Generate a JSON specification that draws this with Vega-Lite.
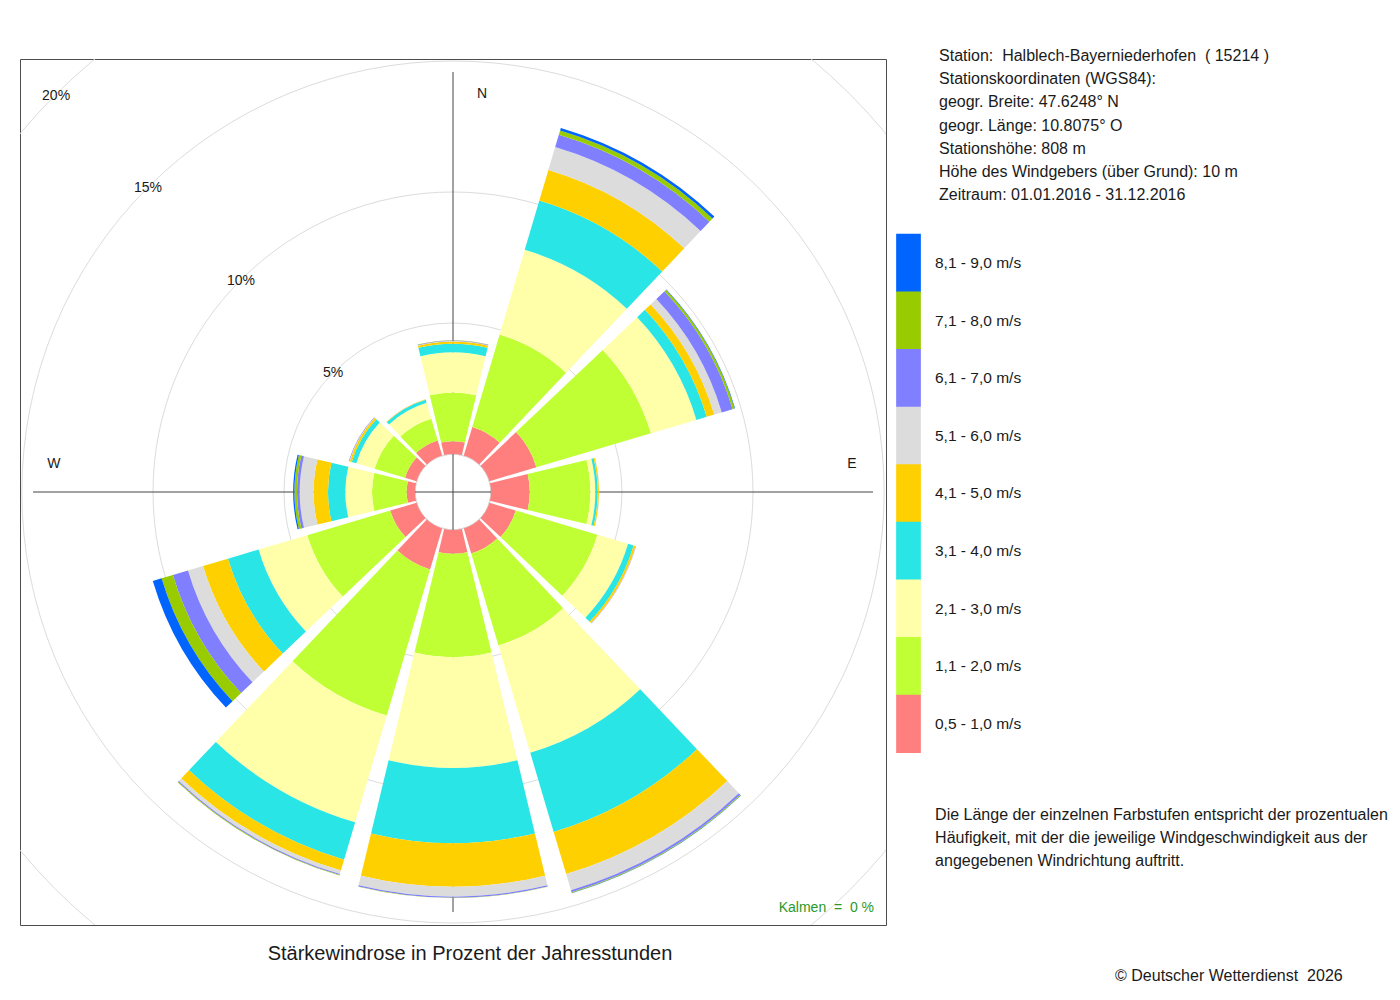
{
  "$schema": "https://vega.github.io/schema/vega-lite/v6.json",
  "width": 866,
  "height": 866,
  "autosize": "none",
  "padding": {"left": 20, "top": 59, "right": 514, "bottom": 75},
  "background": "white",
  "config": {
    "font": "Liberation Sans",
    "view": {"stroke": "#4d4d4d", "strokeWidth": 1},
    "axis": {"disable": true},
    "text": {"font": "Liberation Sans", "fill": "#1a1a1a"}
  },
  "datasets": {
    "rose": [
      {"dir": 0, "cls": "0,5 - 1,0 m/s", "pct": 0.49},
      {"dir": 0, "cls": "1,1 - 2,0 m/s", "pct": 1.86},
      {"dir": 0, "cls": "2,1 - 3,0 m/s", "pct": 1.53},
      {"dir": 0, "cls": "3,1 - 4,0 m/s", "pct": 0.33},
      {"dir": 0, "cls": "4,1 - 5,0 m/s", "pct": 0.08},
      {"dir": 0, "cls": "5,1 - 6,0 m/s", "pct": 0.02},
      {"dir": 0, "cls": "6,1 - 7,0 m/s", "pct": 0.02},
      {"dir": 0, "cls": "7,1 - 8,0 m/s", "pct": 0.01},
      {"dir": 30, "cls": "0,5 - 1,0 m/s", "pct": 1.14},
      {"dir": 30, "cls": "1,1 - 2,0 m/s", "pct": 3.68},
      {"dir": 30, "cls": "2,1 - 3,0 m/s", "pct": 3.37},
      {"dir": 30, "cls": "3,1 - 4,0 m/s", "pct": 1.96},
      {"dir": 30, "cls": "4,1 - 5,0 m/s", "pct": 1.22},
      {"dir": 30, "cls": "5,1 - 6,0 m/s", "pct": 0.91},
      {"dir": 30, "cls": "6,1 - 7,0 m/s", "pct": 0.49},
      {"dir": 30, "cls": "7,1 - 8,0 m/s", "pct": 0.17},
      {"dir": 30, "cls": "8,1 - 9,0 m/s", "pct": 0.10},
      {"dir": 60, "cls": "0,5 - 1,0 m/s", "pct": 1.87},
      {"dir": 60, "cls": "1,1 - 2,0 m/s", "pct": 4.56},
      {"dir": 60, "cls": "2,1 - 3,0 m/s", "pct": 1.81},
      {"dir": 60, "cls": "3,1 - 4,0 m/s", "pct": 0.41},
      {"dir": 60, "cls": "4,1 - 5,0 m/s", "pct": 0.30},
      {"dir": 60, "cls": "5,1 - 6,0 m/s", "pct": 0.30},
      {"dir": 60, "cls": "6,1 - 7,0 m/s", "pct": 0.43},
      {"dir": 60, "cls": "7,1 - 8,0 m/s", "pct": 0.08},
      {"dir": 60, "cls": "8,1 - 9,0 m/s", "pct": 0.02},
      {"dir": 90, "cls": "0,5 - 1,0 m/s", "pct": 1.48},
      {"dir": 90, "cls": "1,1 - 2,0 m/s", "pct": 2.31},
      {"dir": 90, "cls": "2,1 - 3,0 m/s", "pct": 0.19},
      {"dir": 90, "cls": "3,1 - 4,0 m/s", "pct": 0.09},
      {"dir": 90, "cls": "4,1 - 5,0 m/s", "pct": 0.05},
      {"dir": 90, "cls": "5,1 - 6,0 m/s", "pct": 0.01},
      {"dir": 120, "cls": "0,5 - 1,0 m/s", "pct": 1.05},
      {"dir": 120, "cls": "1,1 - 2,0 m/s", "pct": 3.25},
      {"dir": 120, "cls": "2,1 - 3,0 m/s", "pct": 1.22},
      {"dir": 120, "cls": "3,1 - 4,0 m/s", "pct": 0.22},
      {"dir": 120, "cls": "4,1 - 5,0 m/s", "pct": 0.08},
      {"dir": 120, "cls": "5,1 - 6,0 m/s", "pct": 0.01},
      {"dir": 120, "cls": "6,1 - 7,0 m/s", "pct": 0.01},
      {"dir": 150, "cls": "0,5 - 1,0 m/s", "pct": 1.00},
      {"dir": 150, "cls": "1,1 - 2,0 m/s", "pct": 3.66},
      {"dir": 150, "cls": "2,1 - 3,0 m/s", "pct": 4.27},
      {"dir": 150, "cls": "3,1 - 4,0 m/s", "pct": 3.15},
      {"dir": 150, "cls": "4,1 - 5,0 m/s", "pct": 1.68},
      {"dir": 150, "cls": "5,1 - 6,0 m/s", "pct": 0.64},
      {"dir": 150, "cls": "6,1 - 7,0 m/s", "pct": 0.08},
      {"dir": 150, "cls": "7,1 - 8,0 m/s", "pct": 0.03},
      {"dir": 150, "cls": "8,1 - 9,0 m/s", "pct": 0.01},
      {"dir": 180, "cls": "0,5 - 1,0 m/s", "pct": 0.91},
      {"dir": 180, "cls": "1,1 - 2,0 m/s", "pct": 3.94},
      {"dir": 180, "cls": "2,1 - 3,0 m/s", "pct": 4.23},
      {"dir": 180, "cls": "3,1 - 4,0 m/s", "pct": 2.87},
      {"dir": 180, "cls": "4,1 - 5,0 m/s", "pct": 1.66},
      {"dir": 180, "cls": "5,1 - 6,0 m/s", "pct": 0.38},
      {"dir": 180, "cls": "6,1 - 7,0 m/s", "pct": 0.04},
      {"dir": 180, "cls": "7,1 - 8,0 m/s", "pct": 0.01},
      {"dir": 210, "cls": "0,5 - 1,0 m/s", "pct": 1.63},
      {"dir": 210, "cls": "1,1 - 2,0 m/s", "pct": 5.82},
      {"dir": 210, "cls": "2,1 - 3,0 m/s", "pct": 4.25},
      {"dir": 210, "cls": "3,1 - 4,0 m/s", "pct": 1.49},
      {"dir": 210, "cls": "4,1 - 5,0 m/s", "pct": 0.43},
      {"dir": 210, "cls": "5,1 - 6,0 m/s", "pct": 0.14},
      {"dir": 210, "cls": "6,1 - 7,0 m/s", "pct": 0.04},
      {"dir": 210, "cls": "7,1 - 8,0 m/s", "pct": 0.02},
      {"dir": 240, "cls": "0,5 - 1,0 m/s", "pct": 1.05},
      {"dir": 240, "cls": "1,1 - 2,0 m/s", "pct": 3.30},
      {"dir": 240, "cls": "2,1 - 3,0 m/s", "pct": 1.94},
      {"dir": 240, "cls": "3,1 - 4,0 m/s", "pct": 1.22},
      {"dir": 240, "cls": "4,1 - 5,0 m/s", "pct": 0.99},
      {"dir": 240, "cls": "5,1 - 6,0 m/s", "pct": 0.60},
      {"dir": 240, "cls": "6,1 - 7,0 m/s", "pct": 0.60},
      {"dir": 240, "cls": "7,1 - 8,0 m/s", "pct": 0.45},
      {"dir": 240, "cls": "8,1 - 9,0 m/s", "pct": 0.35},
      {"dir": 270, "cls": "0,5 - 1,0 m/s", "pct": 0.32},
      {"dir": 270, "cls": "1,1 - 2,0 m/s", "pct": 1.32},
      {"dir": 270, "cls": "2,1 - 3,0 m/s", "pct": 1.02},
      {"dir": 270, "cls": "3,1 - 4,0 m/s", "pct": 0.66},
      {"dir": 270, "cls": "4,1 - 5,0 m/s", "pct": 0.55},
      {"dir": 270, "cls": "5,1 - 6,0 m/s", "pct": 0.53},
      {"dir": 270, "cls": "6,1 - 7,0 m/s", "pct": 0.10},
      {"dir": 270, "cls": "7,1 - 8,0 m/s", "pct": 0.10},
      {"dir": 270, "cls": "8,1 - 9,0 m/s", "pct": 0.05},
      {"dir": 300, "cls": "0,5 - 1,0 m/s", "pct": 0.46},
      {"dir": 300, "cls": "1,1 - 2,0 m/s", "pct": 1.21},
      {"dir": 300, "cls": "2,1 - 3,0 m/s", "pct": 0.73},
      {"dir": 300, "cls": "3,1 - 4,0 m/s", "pct": 0.18},
      {"dir": 300, "cls": "4,1 - 5,0 m/s", "pct": 0.08},
      {"dir": 300, "cls": "5,1 - 6,0 m/s", "pct": 0.02},
      {"dir": 300, "cls": "6,1 - 7,0 m/s", "pct": 0.02},
      {"dir": 330, "cls": "0,5 - 1,0 m/s", "pct": 0.60},
      {"dir": 330, "cls": "1,1 - 2,0 m/s", "pct": 0.87},
      {"dir": 330, "cls": "2,1 - 3,0 m/s", "pct": 0.63},
      {"dir": 330, "cls": "3,1 - 4,0 m/s", "pct": 0.12},
      {"dir": 330, "cls": "4,1 - 5,0 m/s", "pct": 0.02},
      {"dir": 330, "cls": "5,1 - 6,0 m/s", "pct": 0.01}
    ],
    "rings": [{"g": 0}, {"g": 5}, {"g": 10}, {"g": 15}, {"g": 20}],
    "one": [{}]
  },
  "layer": [
    {
      "data": {"name": "rings"},
      "mark": {"type": "arc", "filled": false, "stroke": "#dcdcdc", "strokeWidth": 1, "theta": 0, "theta2": 6.2832, "clip": true},
      "encoding": {
        "radius": {"field": "g", "type": "quantitative", "stack": null, "scale": {"type": "linear", "domain": [0, 20], "range": [38, 562], "zero": false}}
      }
    },
    {
      "data": {"name": "one"},
      "mark": {"type": "rule", "color": "#444444", "strokeWidth": 1},
      "encoding": {
        "x": {"datum": 0, "type": "quantitative", "axis": null, "scale": {"domain": [-16.5267, 16.5267], "nice": false, "zero": false}},
        "y": {"datum": -16.03, "type": "quantitative", "axis": null, "scale": {"domain": [-16.5267, 16.5267], "nice": false, "zero": false}},
        "y2": {"datum": 16.03}
      }
    },
    {
      "data": {"name": "one"},
      "mark": {"type": "rule", "color": "#444444", "strokeWidth": 1},
      "encoding": {
        "y": {"datum": 0, "type": "quantitative", "axis": null},
        "x": {"datum": -16.03, "type": "quantitative", "axis": null},
        "x2": {"datum": 16.03}
      }
    },
    {
      "data": {"name": "rose"},
      "transform": [
        {"stack": "pct", "groupby": ["dir"], "sort": [{"field": "cls", "order": "ascending"}], "as": ["p0", "p1"]}
      ],
      "mark": {"type": "arc", "thetaOffset": -0.235619, "theta2Offset": 0.235619, "strokeWidth": 0},
      "encoding": {
        "theta": {"field": "dir", "type": "quantitative", "stack": null, "scale": {"type": "linear", "domain": [0, 360], "range": [0, 6.283185307179586], "zero": false, "nice": false}},
        "theta2": {"field": "dir"},
        "radius": {"field": "p1", "type": "quantitative", "stack": null},
        "radius2": {"field": "p0"},
        "color": {
          "field": "cls",
          "type": "nominal",
          "scale": {
            "domain": ["8,1 - 9,0 m/s", "7,1 - 8,0 m/s", "6,1 - 7,0 m/s", "5,1 - 6,0 m/s", "4,1 - 5,0 m/s", "3,1 - 4,0 m/s", "2,1 - 3,0 m/s", "1,1 - 2,0 m/s", "0,5 - 1,0 m/s"],
            "range": ["#0064ff", "#99cc00", "#7f7fff", "#dcdcdc", "#ffd000", "#2ae5e5", "#ffffaa", "#bfff33", "#ff7f7f"]
          },
          "legend": {
            "orient": "none",
            "legendX": 876,
            "legendY": 191.5,
            "title": null,
            "padding": 0,
            "symbolType": "M-1,-2.36H1V2.36H-1Z",
            "symbolSize": 610,
            "symbolStrokeWidth": 0,
            "symbolOpacity": 1,
            "rowPadding": -1.4,
            "labelFont": "Liberation Sans",
            "labelFontSize": 15.5,
            "labelColor": "#1a1a1a",
            "labelOffset": 14,
            "labelLimit": 300
          }
        }
      }
    },
    {
      "data": {"name": "one"},
      "mark": {"type": "text", "text": "N", "fontSize": 14, "align": "center", "baseline": "middle"},
      "encoding": {"x": {"datum": 1.107, "axis": null}, "y": {"datum": 15.19, "axis": null}}
    },
    {
      "data": {"name": "one"},
      "mark": {"type": "text", "text": "E", "fontSize": 14, "align": "center", "baseline": "middle"},
      "encoding": {"x": {"datum": 15.23, "axis": null}, "y": {"datum": 1.07, "axis": null}}
    },
    {
      "data": {"name": "one"},
      "mark": {"type": "text", "text": "W", "fontSize": 14, "align": "center", "baseline": "middle"},
      "encoding": {"x": {"datum": -15.23, "axis": null}, "y": {"datum": 1.07, "axis": null}}
    },
    {
      "data": {"name": "one"},
      "mark": {"type": "text", "text": "5%", "fontSize": 14, "align": "center", "baseline": "middle"},
      "encoding": {"x": {"datum": -4.58, "axis": null}, "y": {"datum": 4.54, "axis": null}}
    },
    {
      "data": {"name": "one"},
      "mark": {"type": "text", "text": "10%", "fontSize": 14, "align": "center", "baseline": "middle"},
      "encoding": {"x": {"datum": -8.09, "axis": null}, "y": {"datum": 8.05, "axis": null}}
    },
    {
      "data": {"name": "one"},
      "mark": {"type": "text", "text": "15%", "fontSize": 14, "align": "center", "baseline": "middle"},
      "encoding": {"x": {"datum": -11.64, "axis": null}, "y": {"datum": 11.6, "axis": null}}
    },
    {
      "data": {"name": "one"},
      "mark": {"type": "text", "text": "20%", "fontSize": 14, "align": "center", "baseline": "middle"},
      "encoding": {"x": {"datum": -15.15, "axis": null}, "y": {"datum": 15.11, "axis": null}}
    },
    {
      "data": {"name": "one"},
      "mark": {"type": "text", "text": "Kalmen \u00a0= \u00a00 %", "fontSize": 14, "align": "right", "baseline": "middle", "fill": "#2a9a2a"},
      "encoding": {"x": {"datum": 16.07, "axis": null}, "y": {"datum": -15.88, "axis": null}}
    },
    {
      "data": {"name": "one"},
      "mark": {"type": "text", "text": "Stärkewindrose in Prozent der Jahresstunden", "fontSize": 20, "align": "center", "baseline": "middle"},
      "encoding": {"x": {"datum": 0.649, "axis": null}, "y": {"datum": -17.63, "axis": null}}
    },
    {
      "data": {"name": "one"},
      "mark": {
        "type": "text",
        "text": "Station: \u00a0Halblech-Bayerniederhofen \u00a0( 15214 )\nStationskoordinaten (WGS84):\ngeogr. Breite: 47.6248° N\ngeogr. Länge: 10.8075° O\nStationshöhe: 808 m\nHöhe des Windgebers (über Grund): 10 m\nZeitraum: 01.01.2016 - 31.12.2016",
        "lineBreak": "\n",
        "lineHeight": 23.17,
        "fontSize": 16,
        "align": "left",
        "baseline": "alphabetic"
      },
      "encoding": {"x": {"datum": 18.55, "axis": null}, "y": {"datum": 16.45, "axis": null}}
    },
    {
      "data": {"name": "one"},
      "mark": {
        "type": "text",
        "text": "Die Länge der einzelnen Farbstufen entspricht der prozentualen\nHäufigkeit, mit der die jeweilige Windgeschwindigkeit aus der\nangegebenen Windrichtung auftritt.",
        "lineBreak": "\n",
        "lineHeight": 23,
        "fontSize": 16,
        "align": "left",
        "baseline": "alphabetic"
      },
      "encoding": {"x": {"datum": 18.4, "axis": null}, "y": {"datum": -12.5, "axis": null}}
    },
    {
      "data": {"name": "one"},
      "mark": {"type": "text", "text": "© Deutscher Wetterdienst \u00a02026", "fontSize": 16, "align": "left", "baseline": "alphabetic"},
      "encoding": {"x": {"datum": 25.27, "axis": null}, "y": {"datum": -18.68, "axis": null}}
    }
  ]
}
